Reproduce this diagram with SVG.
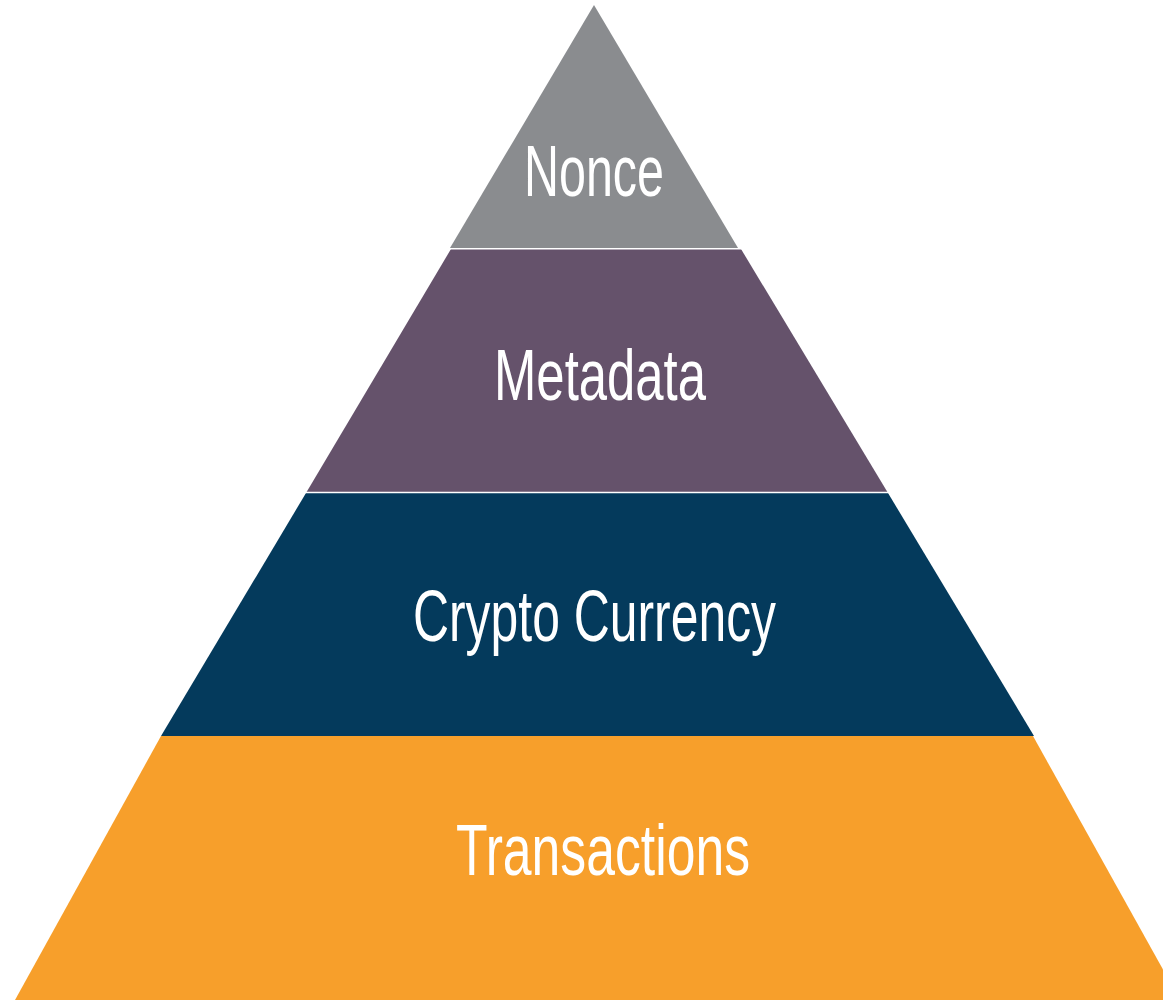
<svg xmlns="http://www.w3.org/2000/svg" width="1163" height="1000" viewBox="0 0 1163 1000">
<style>
.lbl{font-family:"Liberation Sans",Arial,sans-serif;font-size:72px;fill:#ffffff;text-anchor:middle}
.sep{stroke:#ffffff;stroke-width:1.5}
</style>
<rect width="1163" height="1000" fill="#ffffff"/>
<g id="transactions">
<polygon points="161,736 1033,736 1180,1000 15,1000" fill="#f79f2b"/>
<text class="lbl" x="603" y="875" textLength="294" lengthAdjust="spacingAndGlyphs">Transactions</text>
</g>
<g id="crypto">
<polygon points="306,493 888,493 1034,736 161,736" fill="#043a5c"/>
<text class="lbl" x="594.5" y="641" textLength="363" lengthAdjust="spacingAndGlyphs">Crypto Currency</text>
</g>
<g id="metadata">
<polygon points="451,249 741,249 888,493 306,493" fill="#65526b"/>
<text class="lbl" x="600" y="400" textLength="212" lengthAdjust="spacingAndGlyphs">Metadata</text>
</g>
<g id="nonce">
<polygon points="594,5 738,248 450,248" fill="#8a8c8f"/>
<text class="lbl" x="594" y="196" textLength="140" lengthAdjust="spacingAndGlyphs">Nonce</text>
</g>
<g id="connectors">
<line class="sep" x1="440" y1="248.8" x2="750" y2="248.8"/>
<line class="sep" x1="300" y1="492.6" x2="895" y2="492.6" stroke-width="1"/>
</g>
</svg>
